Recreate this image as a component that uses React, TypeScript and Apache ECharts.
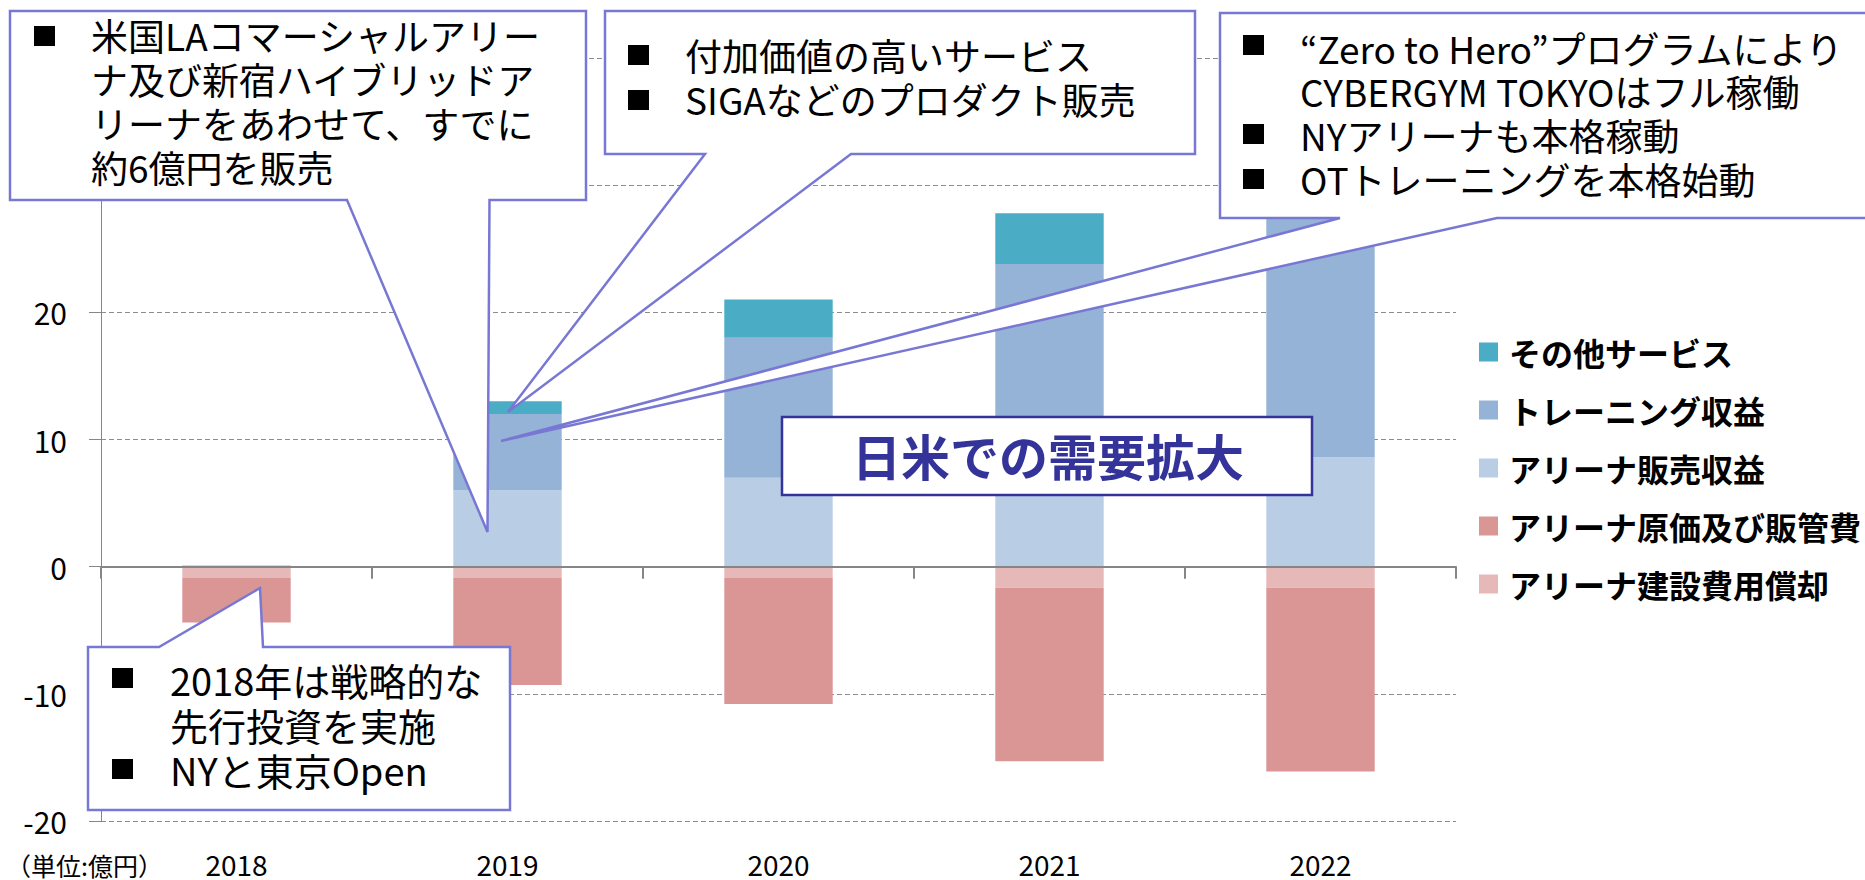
import React, { useEffect, useRef } from 'react';
import * as echarts from 'echarts';

// ---- data ----
const categories = ['2018', '2019', '2020', '2021', '2022'];
const otherServices = [0, 1.0, 3.0, 4.0, 3.5];
const trainingRevenue = [0.1, 6.0, 11.0, 16.3, 23.0];
const arenaSales = [0, 6.0, 7.0, 7.5, 8.6];
const arenaAmortization = [-0.9, -0.9, -0.9, -1.65, -1.65];
const arenaCost = [-3.5, -8.4, -9.9, -13.65, -14.45];
const yMin = -20;
const yMax = 40;
const yInterval = 10;

const nameOther = 'その他サービス';
const nameTraining = 'トレーニング収益';
const nameSales = 'アリーナ販売収益';
const nameCost = 'アリーナ原価及び販管費';
const nameAmort = 'アリーナ建設費用償却';
const legendOrder = [nameOther, nameTraining, nameSales, nameCost, nameAmort];

const unitLabel = '（単位:億円）';

const callout1Lines = ['米国LAコマーシャルアリー', 'ナ及び新宿ハイブリッドア', 'リーナをあわせて、すでに', '約6億円を販売'];
const callout2Lines = ['付加価値の高いサービス', 'SIGAなどのプロダクト販売'];
const callout3Lines = ['“Zero to Hero”プログラムにより', 'CYBERGYM TOKYOはフル稼働', 'NYアリーナも本格稼動', 'OTトレーニングを本格始動'];
const callout4Lines = ['2018年は戦略的な', '先行投資を実施', 'NYと東京Open'];
const headline = '日米での需要拡大';

const JP = '"Noto Sans CJK JP", "Noto Sans", sans-serif';
const CALLOUT_STROKE = '#7878D4';

function textEl(text: string, x: number, y: number, size = 37, extra: any = {}) {
  return {
    type: 'text',
    x,
    y,
    z: 20,
    style: {
      text,
      fill: '#000',
      fontSize: size,
      lineHeight: Math.round(size * 1.05),
      fontFamily: JP,
      align: 'left',
      verticalAlign: 'middle',
      textAlign: 'left',
      textVerticalAlign: 'middle',
      ...extra,
    },
  };
}

function bullet(x: number, cy: number) {
  return {
    type: 'rect',
    z: 20,
    shape: { x, y: cy - 10, width: 21, height: 20 },
    style: { fill: '#000' },
  };
}

function callout(points: number[][]) {
  return {
    type: 'polygon',
    z: 15,
    shape: { points },
    style: { fill: '#fff', stroke: CALLOUT_STROKE, lineWidth: 2.5, lineJoin: 'miter' },
  };
}

export default function App() {
  const ref = useRef<HTMLDivElement>(null);

  useEffect(() => {
    if (!ref.current) return;
    const chart = echarts.init(ref.current, undefined, { renderer: 'svg' });

    const barBase = {
      type: 'bar',
      stack: 'total',
      barWidth: '40%',
      xAxisIndex: 0,
      yAxisIndex: 0,
    };

    const graphics: any[] = [
      // callout 1
      callout([[10, 11], [586, 11], [586, 200], [489.5, 200], [487.5, 532], [347, 200], [10, 200]]),
      bullet(34, 36),
      textEl(callout1Lines[0], 91, 35),
      textEl(callout1Lines[1], 91, 79),
      textEl(callout1Lines[2], 91, 123),
      textEl(callout1Lines[3], 91, 167),
      // callout 2
      callout([[605, 11], [1195, 11], [1195, 154], [851, 154], [508, 412], [705, 154], [605, 154]]),
      bullet(628, 55),
      bullet(628, 100),
      textEl(callout2Lines[0], 685, 55),
      textEl(callout2Lines[1], 685, 99),
      // callout 3
      callout([[1220, 13], [1875, 13], [1875, 218], [1497, 218], [501, 441], [1340, 218], [1220, 218]]),
      bullet(1243, 45),
      bullet(1243, 134),
      bullet(1243, 179),
      textEl(callout3Lines[0], 1300, 48),
      textEl(callout3Lines[1], 1300, 91),
      textEl(callout3Lines[2], 1300, 135),
      textEl(callout3Lines[3], 1300, 179),
      // callout 4
      callout([[88, 647], [159, 647], [260, 588], [263, 647], [510, 647], [510, 810], [88, 810]]),
      bullet(112, 678),
      bullet(112, 769),
      textEl(callout4Lines[0], 170, 679, 38),
      textEl(callout4Lines[1], 170, 724, 38),
      textEl(callout4Lines[2], 170, 769, 38),
      // headline box
      {
        type: 'rect',
        z: 15,
        shape: { x: 782, y: 417, width: 530, height: 78 },
        style: { fill: '#fff', stroke: '#333399', lineWidth: 2.5 },
      },
      textEl(headline, 1048, 454, 49, {
        fill: '#333399',
        fontWeight: 'bold',
        align: 'center',
        textAlign: 'center',
      }),
      // unit label
      textEl(unitLabel, 6, 865, 25),
    ];

    chart.setOption({
      animation: false,
      backgroundColor: '#fff',
      textStyle: { fontFamily: JP },
      grid: { left: 101, right: 409, top: 58, bottom: 59, containLabel: false },
      legend: {
        orient: 'vertical',
        left: 1474,
        top: 331,
        itemWidth: 19,
        itemHeight: 19,
        itemGap: 26,
        icon: 'rect',
        data: legendOrder,
        textStyle: {
          fontSize: 32,
          fontWeight: 'bold',
          color: '#000',
          fontFamily: JP,
          lineHeight: 32,
          padding: [0, 0, 0, 6],
        },
      },
      xAxis: [
        {
          type: 'category',
          data: categories,
          position: 'bottom',
          z: 5,
          axisLine: { show: true, onZero: true, lineStyle: { color: '#868686', width: 2 } },
          axisTick: { show: true, length: 12, lineStyle: { color: '#868686', width: 2 } },
          axisLabel: { show: false },
          splitLine: { show: false },
        },
        {
          type: 'category',
          data: categories,
          position: 'bottom',
          axisLine: { show: false, onZero: false },
          axisTick: { show: false },
          axisLabel: { show: true, fontSize: 28, lineHeight: 28, color: '#000', margin: 29, fontFamily: JP },
          splitLine: { show: false },
        },
      ],
      yAxis: {
        type: 'value',
        min: yMin,
        max: yMax,
        interval: yInterval,
        axisLine: { show: true, lineStyle: { color: '#868686', width: 1 } },
        axisTick: { show: true, length: 12, lineStyle: { color: '#868686', width: 1 } },
        axisLabel: { fontSize: 30, color: '#000', margin: 34, fontFamily: JP },
        splitLine: { show: true, lineStyle: { color: '#8c8c8c', width: 1, type: [5, 3] } },
      },
      series: [
        { ...barBase, name: nameSales, data: arenaSales, itemStyle: { color: '#B9CDE5' } },
        { ...barBase, name: nameTraining, data: trainingRevenue, itemStyle: { color: '#95B3D7' } },
        { ...barBase, name: nameOther, data: otherServices, itemStyle: { color: '#4BACC6' } },
        { ...barBase, name: nameAmort, data: arenaAmortization, itemStyle: { color: '#E6B9B8' } },
        { ...barBase, name: nameCost, data: arenaCost, itemStyle: { color: '#D99694' } },
      ],
      graphic: { elements: graphics },
    });

    return () => {
      chart.dispose();
    };
  }, []);

  return (
    <div
      ref={ref}
      style={{ position: 'absolute', left: 0, top: 0, width: 1865, height: 880, background: '#fff' }}
    />
  );
}
